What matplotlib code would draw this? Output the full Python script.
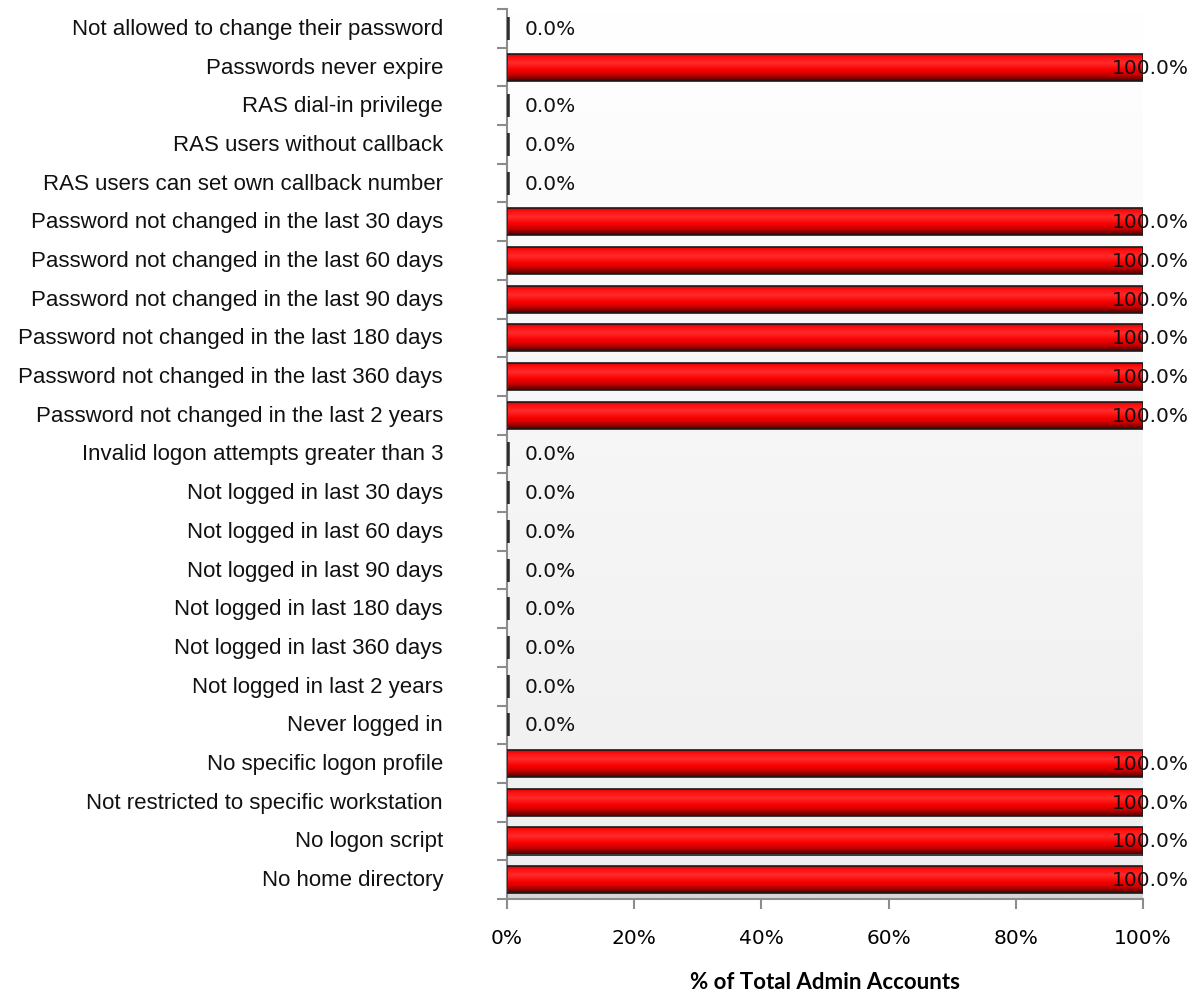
import numpy as np
import matplotlib.pyplot as plt
from matplotlib.colors import LinearSegmentedColormap
from matplotlib.patches import Rectangle

# Admin account audit results, top row first
categories = [
    "Not allowed to change their password",
    "Passwords never expire",
    "RAS dial-in privilege",
    "RAS users without callback",
    "RAS users can set own callback number",
    "Password not changed in the last 30 days",
    "Password not changed in the last 60 days",
    "Password not changed in the last 90 days",
    "Password not changed in the last 180 days",
    "Password not changed in the last 360 days",
    "Password not changed in the last 2 years",
    "Invalid logon attempts greater than 3",
    "Not logged in last 30 days",
    "Not logged in last 60 days",
    "Not logged in last 90 days",
    "Not logged in last 180 days",
    "Not logged in last 360 days",
    "Not logged in last 2 years",
    "Never logged in",
    "No specific logon profile",
    "Not restricted to specific workstation",
    "No logon script",
    "No home directory",
]
percent = [0, 100, 0, 0, 0, 100, 100, 100, 100, 100, 100, 0,
           0, 0, 0, 0, 0, 0, 0, 100, 100, 100, 100]
xticks = [0, 20, 40, 60, 80, 100]

fig = plt.figure(figsize=(11.99, 9.95), dpi=100)
ax = fig.add_axes([507 / 1199, 1 - 900 / 995, 636 / 1199, 890 / 995])

n = len(categories)
ypos = np.arange(n)
ax.set_xlim(0, 100)
ax.set_ylim(n - 0.5, -0.5)

# pale backdrop with a grey floor strip at the bottom
grad = np.linspace(0, 1, 400).reshape(-1, 1) * np.ones((1, 50))
bg = LinearSegmentedColormap.from_list(
    "bg", [(0, "#ffffff"), (0.5, "#f6f6f6"), (0.975, "#efefef"), (0.985, "#dadada"), (1, "#d6d6d6")])
ax.imshow(grad, cmap=bg, aspect="auto", extent=(0, 100, n - 0.5, -0.5),
          zorder=0, interpolation="bilinear")

# red cylinder shading for the bars
shade = LinearSegmentedColormap.from_list(
    "cyl", [(0, "#d00000"), (0.15, "#ff1010"), (0.35, "#ff2a2a"), (0.6, "#f80000"),
            (0.8, "#c00000"), (1, "#500000")])
bar_h = 0.70
for y, v in zip(ypos, percent):
    if v > 0:
        strip = np.linspace(0, 1, 64).reshape(-1, 1)
        im = ax.imshow(strip, cmap=shade, aspect="auto",
                       extent=(0, v, y + bar_h / 2, y - bar_h / 2), zorder=2)
        rect = Rectangle((0, y - bar_h / 2), v, bar_h, facecolor="none",
                         edgecolor="#1a1a1a", linewidth=1.2, zorder=3)
        ax.add_patch(rect)
        im.set_clip_path(rect)
    else:
        ax.barh(y, v, height=bar_h * 0.85, color="#333333",
                edgecolor="#2e2e2e", linewidth=4, zorder=3)

# value labels
for y, v in zip(ypos, percent):
    dx = 18 if v < 50 else -31
    ax.annotate(f"{v:.1f}%", (v, y), xytext=(dx * 0.72, 0), textcoords="offset points",
                ha="left", va="center", fontsize=14.5, family="DejaVu Sans",
                color="#111111", zorder=5, annotation_clip=False)

ax.set_yticks(np.arange(-0.5, n, 1))
ax.set_yticklabels([])
for y, name in zip(ypos, categories):
    ax.text(-64 / 636, y, name, transform=ax.get_yaxis_transform(), ha="right",
            va="center", fontsize=16, family="Liberation Sans", color="#111111")

ax.set_xticks(xticks)
ax.set_xticklabels([f"{t}%" for t in xticks], family="DejaVu Sans", fontsize=14.5)
ax.tick_params(axis="x", length=7, width=1.5, color="#8c8c8c", pad=14)
ax.tick_params(axis="y", length=7, width=1.5, color="#8c8c8c")

for side in ["top", "right"]:
    ax.spines[side].set_visible(False)
for side in ["left", "bottom"]:
    ax.spines[side].set_color("#8c8c8c")
    ax.spines[side].set_linewidth(1.5)

ax.set_xlabel("% of Total Admin Accounts", family="Lato", fontweight="bold",
              fontsize=16, labelpad=17)

fig.savefig("out.png", dpi=100, facecolor="white")
